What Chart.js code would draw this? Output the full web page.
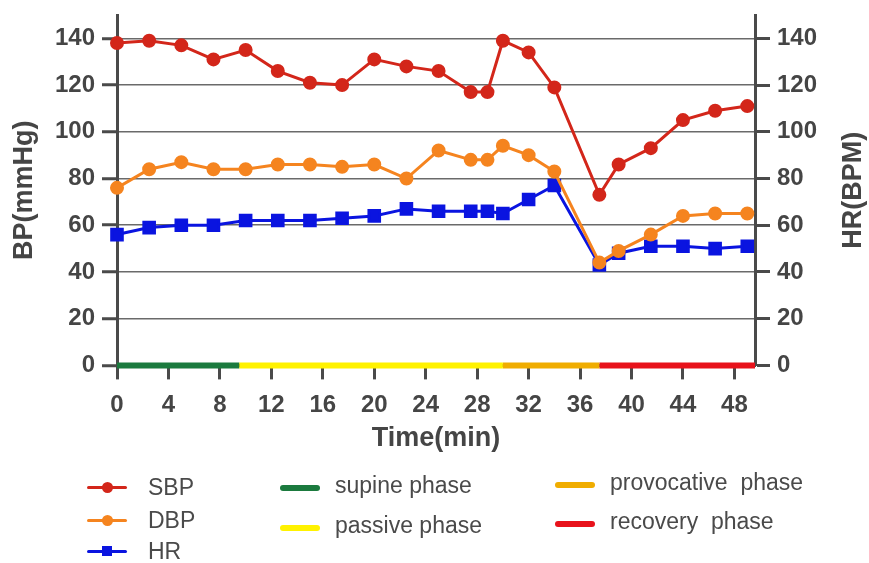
<!DOCTYPE html>
<html>
<head>
<meta charset="utf-8">
<script src="https://cdn.jsdelivr.net/npm/chart.js@4.4.0/dist/chart.umd.min.js"></script>
<style>
  body { margin: 0; background: #fff; }
  #wrap { position: relative; width: 869px; height: 563px; }
  .lgText { position: absolute; font: 23px "Liberation Sans", Arial, sans-serif; color: #4a4a4a; white-space: pre; line-height: 26px; height: 26px; }
  .lgLine { position: absolute; border-radius: 3px; }
  .lgDot { position: absolute; }
</style>
</head>
<body>
<div id="wrap">
  <canvas id="chart" width="869" height="563"></canvas>
</div>
<script>
// time points (min)
const times = [0, 2.5, 5, 7.5, 10, 12.5, 15, 17.5, 20, 22.5, 25, 27.5, 28.8, 30, 32, 34, 37.5, 39, 41.5, 44, 46.5, 49];
const sbp = [138, 139, 137, 131, 135, 126, 121, 120, 131, 128, 126, 117, 117, 139, 134, 119, 73, 86, 93, 105, 109, 111];
const dbp = [76, 84, 87, 84, 84, 86, 86, 85, 86, 80, 92, 88, 88, 94, 90, 83, 44, 49, 56, 64, 65, 65];
const hr = [56, 59, 60, 60, 62, 62, 62, 63, 64, 67, 66, 66, 66, 65, 71, 77, 43, 48, 51, 51, 50, 51];

// phases along the time axis
const phaseNames = ['supine phase', 'passive phase', 'provocative  phase', 'recovery  phase'];
const phaseBounds = [0, 9.5, 30, 37.5, 49.6];
const phaseColors = ['#1b7a3e', '#fff200', '#f0ad00', '#e8121b'];

const xTicks = [0, 4, 8, 12, 16, 20, 24, 28, 32, 36, 40, 44, 48];
const yTicks = [0, 20, 40, 60, 80, 100, 120, 140];

const axisColor = '#4a4a4a';
const textColor = '#454545';
const tickFont = { family: '"Liberation Sans", Arial, sans-serif', size: 24, weight: 'bold' };
const titleFont = { family: '"Liberation Sans", Arial, sans-serif', size: 27, weight: 'bold' };

const pts = vals => times.map((t, i) => ({ x: t, y: vals[i] }));

const datasets = [
  { label: 'SBP', data: pts(sbp), yAxisID: 'y', borderColor: '#d3261a', backgroundColor: '#d3261a',
    borderWidth: 3, pointRadius: 5.5, pointStyle: 'circle', order: 0, clip: false },
  { label: 'DBP', data: pts(dbp), yAxisID: 'y', borderColor: '#f5841f', backgroundColor: '#f5841f',
    borderWidth: 3, pointRadius: 5.5, pointStyle: 'circle', order: 1, clip: false },
  { label: 'HR', data: pts(hr), yAxisID: 'y1', borderColor: '#0a14e0', backgroundColor: '#0a14e0',
    borderWidth: 3, pointRadius: 7.5, pointStyle: 'rect', order: 2, clip: false }
];
phaseNames.forEach((name, i) => {
  datasets.push({
    label: name,
    data: [{ x: phaseBounds[i], y: 0 }, { x: phaseBounds[i + 1], y: 0 }],
    yAxisID: 'y', borderColor: phaseColors[i], borderWidth: 6, pointRadius: 0,
    borderCapStyle: 'butt', clip: false, order: 3
  });
});

// right axis title reads bottom-to-top like the left one
const rightTitle = {
  id: 'rightTitle',
  afterDraw(chart) {
    const { ctx, chartArea } = chart;
    ctx.save();
    ctx.translate(854, (chartArea.top + chartArea.bottom) / 2);
    ctx.rotate(-Math.PI / 2);
    ctx.font = 'bold 27px "Liberation Sans", Arial, sans-serif';
    ctx.fillStyle = textColor;
    ctx.textAlign = 'center';
    ctx.textBaseline = 'middle';
    ctx.fillText('HR(BPM)', 0, 0);
    ctx.restore();
  }
};

const fitY = w => s => { s.width = w; s.paddingTop = 0; s.paddingBottom = 0; };

new Chart(document.getElementById('chart'), {
  type: 'line',
  data: { datasets },
  plugins: [rightTitle],
  options: {
    responsive: false,
    animation: false,
    layout: { padding: { top: 15, bottom: 108.6, left: 0, right: 0 } },
    plugins: { legend: { display: false }, tooltip: { enabled: false } },
    scales: {
      x: {
        type: 'linear', min: 0, max: 49.6,
        afterBuildTicks: a => { a.ticks = xTicks.map(v => ({ value: v })); },
        afterFit: s => { s.height = 89; s.paddingLeft = 0; s.paddingRight = 0; },
        grid: { drawOnChartArea: false, drawTicks: true, tickLength: 14, tickWidth: 3, tickColor: axisColor },
        border: { color: axisColor, width: 3 },
        ticks: { font: tickFont, color: textColor, padding: 12, maxRotation: 0 },
        title: { display: true, text: 'Time(min)', font: titleFont, color: textColor, padding: { top: 0, bottom: 0 } }
      },
      y: {
        position: 'left', min: 0, max: 150,
        afterBuildTicks: a => { a.ticks = yTicks.map(v => ({ value: v })); },
        afterFit: fitY(117),
        grid: { color: '#6a6a6a', lineWidth: 1.5, tickLength: 15, tickWidth: 3, tickColor: axisColor },
        border: { color: axisColor, width: 3 },
        ticks: { font: tickFont, color: textColor, padding: 7 },
        title: { display: true, text: 'BP(mmHg)', font: titleFont, color: textColor, padding: { top: 8, bottom: 0 } }
      },
      y1: {
        position: 'right', min: 0, max: 150,
        afterBuildTicks: a => { a.ticks = yTicks.map(v => ({ value: v })); },
        afterFit: fitY(114),
        grid: { drawOnChartArea: false, tickLength: 15, tickWidth: 3, tickColor: axisColor },
        border: { color: axisColor, width: 3 },
        ticks: { font: tickFont, color: textColor, padding: 7 }
      }
    }
  }
});

// legend under the chart, laid out like the original
const legendItems = [
  { text: 'SBP', color: '#d3261a', mark: 'dot', x: 87, y: 487 },
  { text: 'DBP', color: '#f5841f', mark: 'dot', x: 87, y: 520 },
  { text: 'HR', color: '#0a14e0', mark: 'square', x: 87, y: 551 },
  { text: phaseNames[0], color: phaseColors[0], mark: 'bar', x: 280, y: 488 },
  { text: phaseNames[1], color: phaseColors[1], mark: 'bar', x: 280, y: 528 },
  { text: phaseNames[2], color: phaseColors[2], mark: 'bar', x: 555, y: 485 },
  { text: phaseNames[3], color: phaseColors[3], mark: 'bar', x: 555, y: 524 }
];
const wrap = document.getElementById('wrap');
legendItems.forEach(it => {
  const line = document.createElement('div');
  line.className = 'lgLine';
  const h = it.mark === 'bar' ? 6 : 3;
  Object.assign(line.style, { left: it.x + 'px', top: (it.y - h / 2) + 'px', width: '40px', height: h + 'px', background: it.color });
  wrap.appendChild(line);
  if (it.mark !== 'bar') {
    const d = document.createElement('div');
    d.className = 'lgDot';
    const sz = it.mark === 'dot' ? 11 : 10;
    Object.assign(d.style, { left: (it.x + 20 - sz / 2) + 'px', top: (it.y - sz / 2) + 'px', width: sz + 'px', height: sz + 'px',
      background: it.color, borderRadius: it.mark === 'dot' ? '50%' : '0' });
    wrap.appendChild(d);
  }
  const t = document.createElement('div');
  t.className = 'lgText';
  t.textContent = it.text;
  const tx = it.mark === 'bar' ? it.x + 55 : it.x + 61;
  const ty = it.mark === 'bar' ? it.y - 16 : it.y - 13;
  Object.assign(t.style, { left: tx + 'px', top: ty + 'px' });
  wrap.appendChild(t);
});
</script>
</body>
</html>
